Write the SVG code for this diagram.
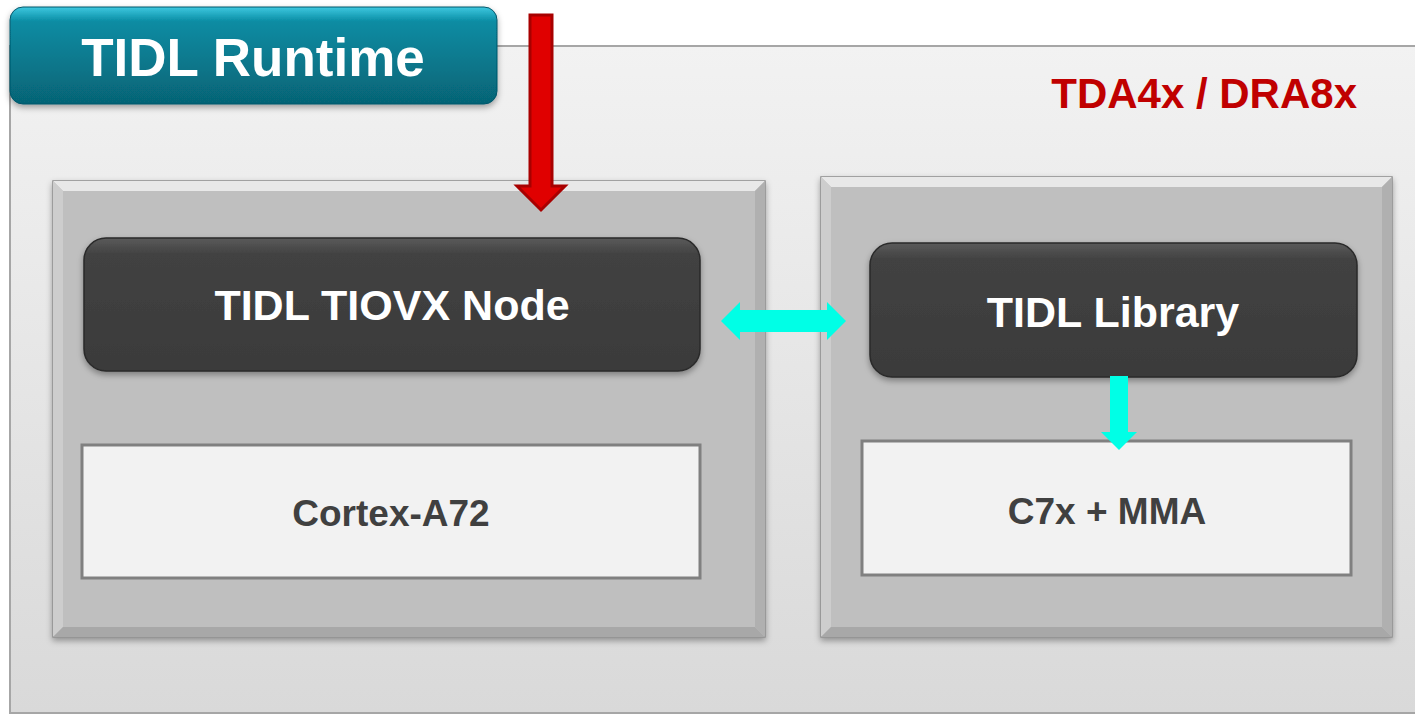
<svg xmlns="http://www.w3.org/2000/svg" width="1415" height="715" viewBox="0 0 1415 715">
<defs>
<linearGradient id="gOuter" x1="0" y1="0" x2="0" y2="1"><stop offset="0" stop-color="#f2f2f2"/><stop offset="1" stop-color="#d9d9d9"/></linearGradient>
<linearGradient id="gTeal" x1="0" y1="0" x2="0" y2="1"><stop offset="0" stop-color="#3cc8e0"/><stop offset="0.15" stop-color="#0a8ca3"/><stop offset="1" stop-color="#066375"/></linearGradient>
<linearGradient id="gDark" x1="0" y1="0" x2="0" y2="1"><stop offset="0" stop-color="#5a5a5a"/><stop offset="0.12" stop-color="#424242"/><stop offset="1" stop-color="#3a3a3a"/></linearGradient>
<filter id="sh" x="-10%" y="-10%" width="120%" height="130%"><feDropShadow dx="0" dy="3" stdDeviation="3" flood-color="#000" flood-opacity="0.35"/></filter>
<style>
.panel{fill:#bfbfbf;stroke:#8c8c8c;stroke-width:1.5}
.dark{fill:url(#gDark);stroke:#2a2a2a;stroke-width:1.5}
.chip{fill:#f2f2f2;stroke:#808080;stroke-width:3}
.t1{font-family:"Liberation Sans",Arial,sans-serif;font-weight:bold;fill:#ffffff;text-anchor:middle}
.t2{font-family:"Liberation Sans",Arial,sans-serif;font-weight:bold;fill:#404040;text-anchor:middle;font-size:37px}
.cyan{fill:#00ffe6}
</style>
</defs>
<rect width="1415" height="715" fill="#ffffff"/>
<g id="outer">
<rect x="10" y="46" width="1420" height="667" fill="url(#gOuter)" stroke="#a6a6a6" stroke-width="2"/>
<text x="1357" y="108" font-family="'Liberation Sans',Arial,sans-serif" font-weight="bold" font-size="42" fill="#c00000" text-anchor="end">TDA4x / DRA8x</text>
</g>
<g id="title">
<rect x="10" y="7" width="487" height="97" rx="13" fill="url(#gTeal)" stroke="#05566a" stroke-width="1" filter="url(#sh)"/>
<text class="t1" x="253" y="76" font-size="53">TIDL Runtime</text>
</g>
<g id="left-panel">
<rect class="panel" x="53" y="181" width="712" height="456" filter="url(#sh)"/>
<polygon points="53,181 765,181 755,191 63,191" fill="#e8e8e8"/>
<polygon points="53,181 63,191 63,627 53,637" fill="#cdcdcd"/>
<polygon points="53,637 63,627 755,627 765,637" fill="#a8a8a8"/>
<polygon points="765,181 765,637 755,627 755,191" fill="#b0b0b0"/>
</g>
<g id="right-panel">
<rect class="panel" x="821" y="177" width="571" height="460" filter="url(#sh)"/>
<polygon points="821,177 1392,177 1382,187 831,187" fill="#e8e8e8"/>
<polygon points="821,177 831,187 831,627 821,637" fill="#cdcdcd"/>
<polygon points="821,637 831,627 1382,627 1392,637" fill="#a8a8a8"/>
<polygon points="1392,177 1392,637 1382,627 1382,187" fill="#b0b0b0"/>
</g>
<g id="tiovx-node">
<rect class="dark" x="84" y="238" width="616" height="133" rx="22" filter="url(#sh)"/>
<text class="t1" x="392" y="320" font-size="43">TIDL TIOVX Node</text>
</g>
<g id="tidl-library">
<rect class="dark" x="870" y="243" width="487" height="134" rx="22" filter="url(#sh)"/>
<text class="t1" x="1113" y="327" font-size="43">TIDL Library</text>
</g>
<g id="cortex">
<rect class="chip" x="82" y="445" width="618" height="133"/>
<text class="t2" x="391" y="526">Cortex-A72</text>
</g>
<g id="c7x">
<rect class="chip" x="862" y="441" width="489" height="134"/>
<text class="t2" x="1107" y="524">C7x + MMA</text>
</g>
<g id="connectors">
<polygon points="530,15 552,15 552,186 565,186 541,210 517,186 530,186" fill="#e00000" stroke="#a80000" stroke-width="3" stroke-linejoin="miter"/>
<polygon class="cyan" points="721,321 740,302 740,310 827,310 827,302 846,321 827,340 827,332 740,332 740,340"/>
<polygon class="cyan" points="1110,376 1128,376 1128,432 1137,432 1119,450 1101,432 1110,432"/>
</g>
</svg>
